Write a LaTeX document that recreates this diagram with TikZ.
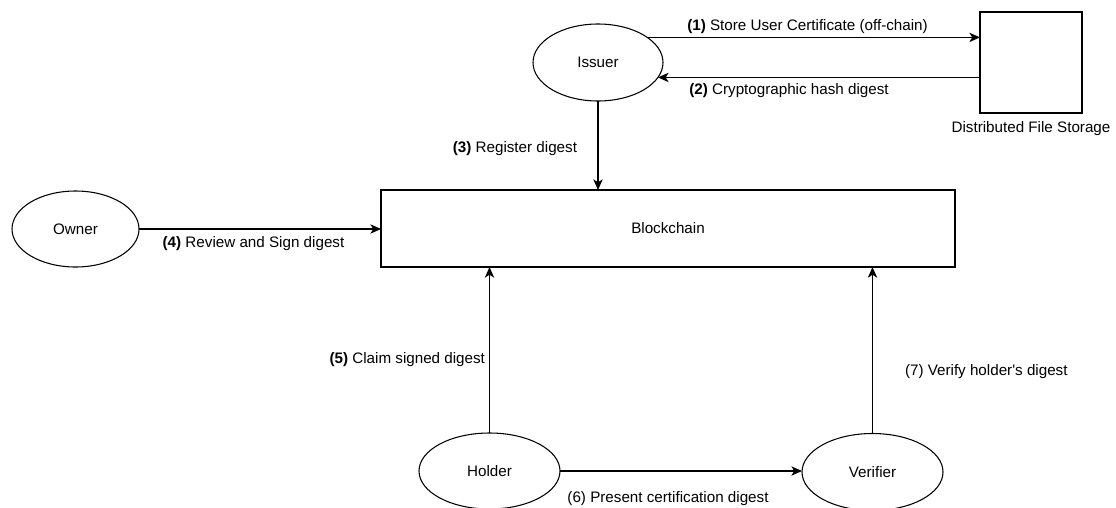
\documentclass[tikz,border=0pt]{standalone}
\usepackage{fontspec}
\setmainfont{Liberation Sans}
\usetikzlibrary{shapes.geometric,arrows.meta}

\begin{document}
\begin{tikzpicture}[x=0.75pt,y=-0.75pt,
  every node/.style={font=\fontsize{11.4}{13.5}\selectfont, inner sep=0pt, outer sep=0pt},
  actor/.style={ellipse, draw, line width=0.8pt},
  box/.style={rectangle, draw, line width=0.8pt},
  flow/.style={draw, line width=0.8pt, -{Stealth[length=8pt, width=7pt, inset=2.2pt]}}]

\useasboundingbox (0,0) rectangle (1116,507);

% participants
\node[actor, minimum width=97.5pt, minimum height=57.75pt] (issuer) at (598,62.5) {Issuer};
\node[actor, minimum width=95.25pt, minimum height=57pt] (owner) at (75.5,229) {Owner};
\node[actor, minimum width=105.75pt, minimum height=57pt] (holder) at (489.5,471) {Holder};
\node[actor, minimum width=105.75pt, minimum height=57.75pt] (verifier) at (872.5,472) {Verifier};

% ledger and off-chain storage
\node[box, minimum width=430.5pt, minimum height=57.75pt] (chain) at (668,228.5) {Blockchain};
\node[box, minimum width=76.5pt, minimum height=75.75pt] (store) at (1031,62.5) {};
\node[anchor=base] (storelbl) at (1031,132) {Distributed File Storage};

% message flow
\draw[flow] (issuer.27) -- (issuer.27 -| store.west);
\draw[flow] (issuer.-14 -| store.west) -- (issuer.-14);
\draw[flow] (issuer.south) -- (issuer.south |- chain.north);
\draw[flow] (owner.east) -- (owner.east -| chain.west);
\draw[flow] (holder.north) -- (holder.north |- chain.south);
\draw[flow] (holder.east) -- (holder.east -| verifier.west);
\draw[flow] (verifier.north) -- (verifier.north |- chain.south);

% step labels
\node[anchor=base] (l1) at (807.5,30) {\textbf{(1)} Store User Certificate (off-chain)};
\node[anchor=base] (l2) at (789,94) {\textbf{(2)} Cryptographic hash digest};
\node[anchor=base east] (l3) at (577,152) {\textbf{(3)} Register digest};
\node[anchor=base] (l4) at (253.5,247) {\textbf{(4)} Review and Sign digest};
\node[anchor=base east] (l5) at (485,363) {\textbf{(5)} Claim signed digest};
\node[anchor=base] (l6) at (668,502) {(6) Present certification digest};
\node[anchor=base west] (l7) at (905,375) {(7) Verify holder\textquotesingle s digest};

\end{tikzpicture}
\end{document}
